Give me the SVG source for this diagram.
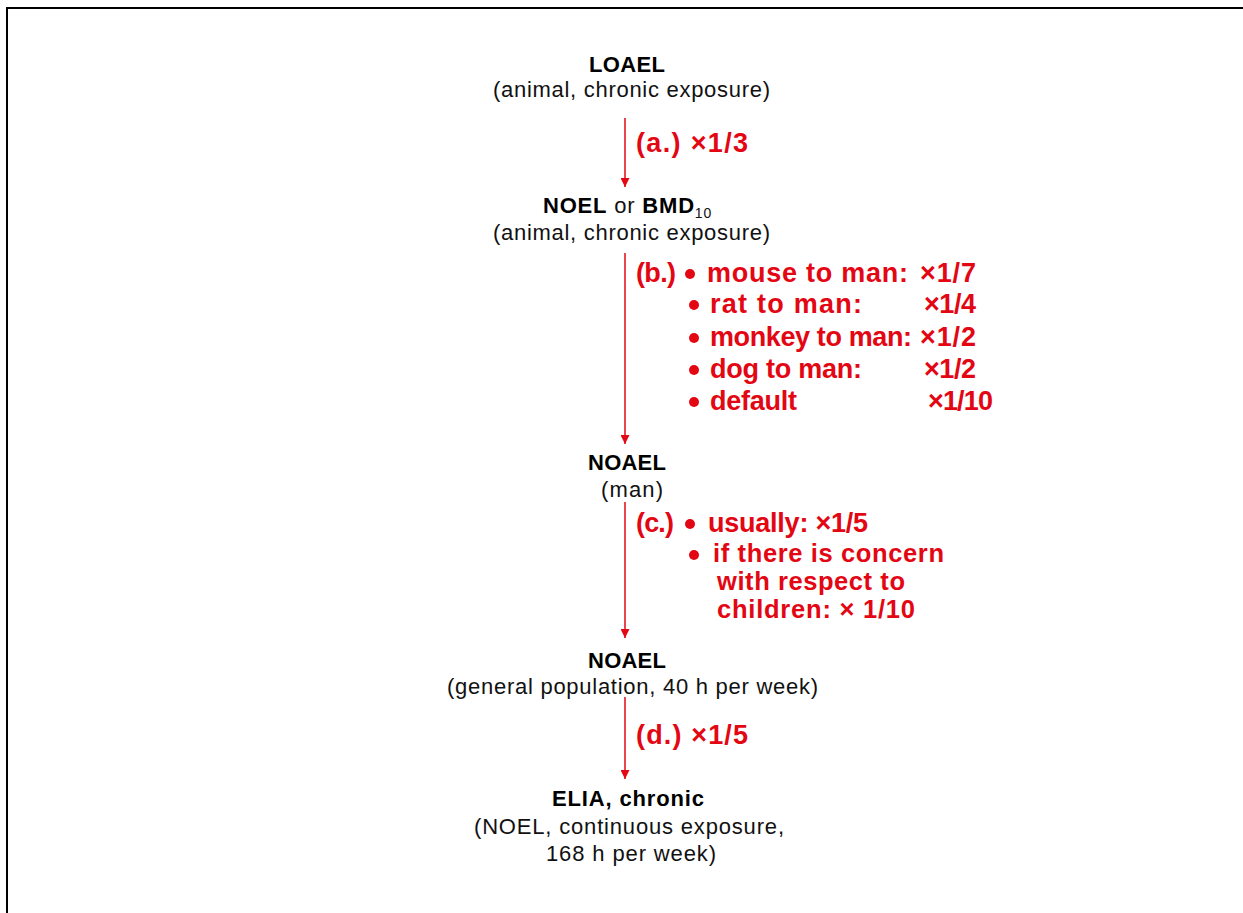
<svg xmlns="http://www.w3.org/2000/svg" width="1243" height="913" viewBox="0 0 1243 913">
<defs>
<style>
.bk{font-family:"Liberation Sans",Arial,sans-serif;font-size:22px;fill:#111;}
.bb{font-family:"Liberation Sans",Arial,sans-serif;font-size:22px;font-weight:bold;fill:#000;}
.rd{font-family:"Liberation Sans",Arial,sans-serif;font-size:27px;font-weight:bold;fill:#e30613;}
.rs{font-size:25.5px;}
.ln{stroke:#e30613;stroke-width:1.5;fill:none;}
.bul{fill:#e30613;}
</style>
<marker id="ah" viewBox="0 0 10 10" refX="10" refY="5" markerWidth="10" markerHeight="9" markerUnits="userSpaceOnUse" orient="auto">
<path d="M0,0 L10,5 L0,10 z" fill="#e30613"/>
</marker>
</defs>
<rect width="1243" height="913" fill="#fff"/>
<path d="M7,913 V8 H1243" stroke="#000" stroke-width="2" fill="none"/>

<g id="connectors">
<line class="ln" x1="625" y1="118" x2="625" y2="187" marker-end="url(#ah)"/>
<line class="ln" x1="625" y1="253" x2="625" y2="444" marker-end="url(#ah)"/>
<line class="ln" x1="625" y1="502" x2="625" y2="638" marker-end="url(#ah)"/>
<line class="ln" x1="625" y1="697" x2="625" y2="779" marker-end="url(#ah)"/>
</g>

<g id="loael">
<text class="bb" x="589" y="72" textLength="76" lengthAdjust="spacing">LOAEL</text>
<text class="bk" x="493" y="97" textLength="277" lengthAdjust="spacing">(animal, chronic exposure)</text>
</g>

<g id="label-a">
<text class="rd" x="636" y="152" textLength="112" lengthAdjust="spacing">(a.) ×1/3</text>
</g>

<g id="noel">
<text class="bk" x="543" y="213" letter-spacing="0.8"><tspan class="bb">NOEL</tspan> or <tspan class="bb">BMD</tspan><tspan font-size="14" dy="5">10</tspan></text>
<text class="bk" x="493" y="240" textLength="277" lengthAdjust="spacing">(animal, chronic exposure)</text>
</g>

<g id="label-b">
<text class="rd" x="636" y="282" textLength="40" lengthAdjust="spacing">(b.)</text>
<circle class="bul" cx="690" cy="274" r="5"/>
<text class="rd" x="707" y="282" textLength="201" lengthAdjust="spacing">mouse to man:</text>
<text class="rd" x="920" y="282" textLength="56" lengthAdjust="spacing">×1/7</text>
<circle class="bul" cx="694" cy="305" r="5"/>
<text class="rd" x="710" y="313" textLength="152" lengthAdjust="spacing">rat to man:</text>
<text class="rd" x="924" y="313" textLength="52" lengthAdjust="spacing">×1/4</text>
<circle class="bul" cx="694" cy="338" r="5"/>
<text class="rd" x="710" y="346" textLength="202" lengthAdjust="spacing">monkey to man:</text>
<text class="rd" x="920" y="346" textLength="56" lengthAdjust="spacing">×1/2</text>
<circle class="bul" cx="694" cy="370" r="5"/>
<text class="rd" x="710" y="378" textLength="152" lengthAdjust="spacing">dog to man:</text>
<text class="rd" x="924" y="378" textLength="52" lengthAdjust="spacing">×1/2</text>
<circle class="bul" cx="694" cy="402" r="5"/>
<text class="rd" x="710" y="410" textLength="87" lengthAdjust="spacing">default</text>
<text class="rd" x="928" y="410" textLength="65" lengthAdjust="spacing">×1/10</text>
</g>

<g id="noael-man">
<text class="bb" x="588" y="470" textLength="78" lengthAdjust="spacing">NOAEL</text>
<text class="bk" x="601" y="497" textLength="62" lengthAdjust="spacing">(man)</text>
</g>

<g id="label-c">
<text class="rd" x="636" y="532" textLength="38" lengthAdjust="spacing">(c.)</text>
<circle class="bul" cx="690" cy="524" r="5"/>
<text class="rd" x="708" y="532" textLength="160" lengthAdjust="spacing">usually: ×1/5</text>
<circle class="bul" cx="694" cy="555" r="5"/>
<text class="rd rs" x="713" y="562" textLength="231" lengthAdjust="spacing">if there is concern</text>
<text class="rd rs" x="717" y="590" textLength="188" lengthAdjust="spacing">with respect to</text>
<text class="rd rs" x="717" y="618" textLength="198" lengthAdjust="spacing">children: × 1/10</text>
</g>

<g id="noael-general">
<text class="bb" x="588" y="668" textLength="78" lengthAdjust="spacing">NOAEL</text>
<text class="bk" x="447" y="694" textLength="371" lengthAdjust="spacing">(general population, 40 h per week)</text>
</g>

<g id="label-d">
<text class="rd" x="636" y="744" textLength="112" lengthAdjust="spacing">(d.) ×1/5</text>
</g>

<g id="elia">
<text class="bb" x="552" y="806" textLength="152" lengthAdjust="spacing">ELIA, chronic</text>
<text class="bk" x="474" y="834" textLength="310" lengthAdjust="spacing">(NOEL, continuous exposure,</text>
<text class="bk" x="546" y="861" textLength="170" lengthAdjust="spacing">168 h per week)</text>
</g>
</svg>
